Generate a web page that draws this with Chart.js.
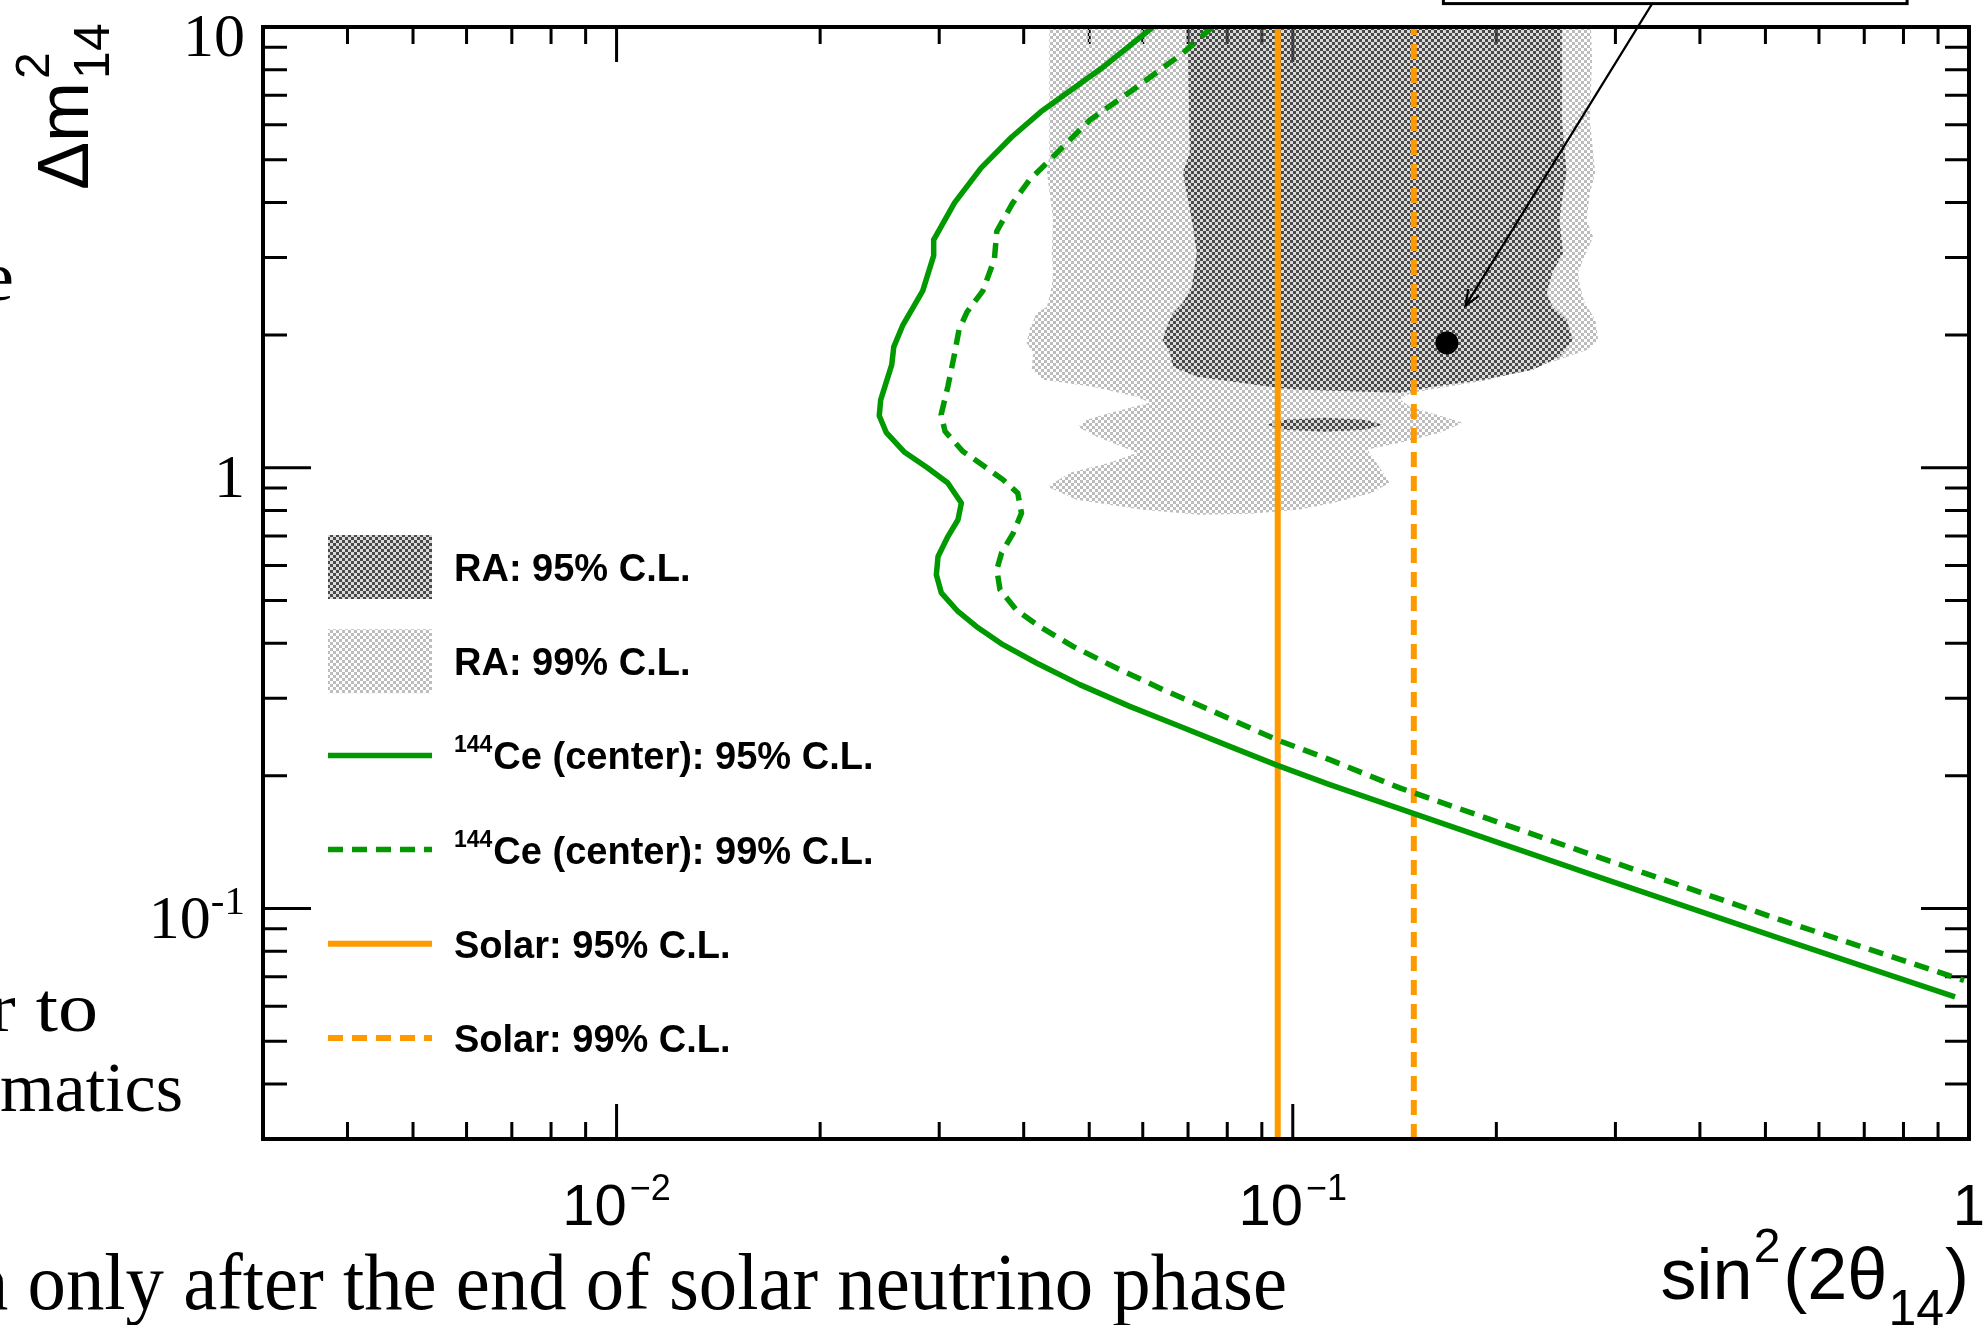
<!DOCTYPE html>
<html>
<head>
<meta charset="utf-8">
<title>Sterile neutrino sensitivity: RA, 144Ce and solar limits</title>
<script src="https://cdn.jsdelivr.net/npm/chart.js@4.4.1/dist/chart.umd.min.js"></script>
<style>
  html, body { margin: 0; padding: 0; background: #ffffff; overflow: hidden; }
  canvas { display: block; }
</style>
</head>
<body>
<canvas id="plot" width="1985" height="1325"></canvas>
<script>
// ---------------- axis ranges and labelled decades ----------------
const sin2Range = [0.003, 1];
const sin2Labels = [0.01, 0.1, 1];
const dm2Range = [0.03, 10];
const dm2Labels = [0.1, 1, 10];

// ---------------- RA allowed regions (closed contours) ----------------
const ra99Sin2 = [0.0437, 0.276, 0.277, 0.275, 0.280, 0.275, 0.272, 0.278, 0.2685, 0.264, 0.266, 0.270, 0.280, 0.283,
  0.272, 0.248, 0.222, 0.194, 0.171, 0.150, 0.144, 0.149, 0.167, 0.1785, 0.165, 0.144, 0.129, 0.132, 0.136, 0.139,
  0.131, 0.115, 0.102, 0.0864, 0.0728, 0.0600, 0.0479, 0.0434, 0.0468, 0.0536, 0.0588, 0.0560, 0.0513, 0.0481, 0.0496,
  0.0536, 0.0614, 0.0588, 0.0506, 0.0427, 0.0411, 0.0413, 0.0404, 0.0408, 0.0418, 0.0433, 0.0440, 0.0442, 0.0440,
  0.0442, 0.0437, 0.0433, 0.0437, 0.0436, 0.0437];
const ra99Dm2 = [10, 10, 8.42, 6.15, 4.67, 4.20, 3.65, 3.34, 2.96, 2.77, 2.57, 2.37, 2.17, 1.95,
  1.85, 1.76, 1.67, 1.58, 1.53, 1.48, 1.43, 1.375, 1.305, 1.265, 1.20, 1.14, 1.10, 1.043, 0.974, 0.925,
  0.878, 0.833, 0.803, 0.786, 0.782, 0.803, 0.846, 0.906, 0.974, 1.026, 1.081, 1.116, 1.176, 1.239, 1.285,
  1.332, 1.404, 1.449, 1.526, 1.583, 1.668, 1.823, 1.92, 2.056, 2.246, 2.318, 2.573, 2.768, 3.073,
  3.65, 4.20, 4.67, 5.18, 7.31, 10];

const ra95Sin2 = [0.0699, 0.250, 0.250, 0.254, 0.251, 0.248, 0.251, 0.242, 0.2375, 0.242, 0.254, 0.2595, 0.248,
  0.2265, 0.191, 0.161, 0.144, 0.1024, 0.0947, 0.0843, 0.0721, 0.0665, 0.0658, 0.0642, 0.0651, 0.0665, 0.0688,
  0.0709, 0.0721, 0.0709, 0.0688, 0.0704, 0.0699];
const ra95Dm2 = [10, 10, 6.15, 4.67, 4.20, 3.65, 3.07, 2.77, 2.49, 2.32, 2.17, 1.95, 1.785,
  1.668, 1.583, 1.526, 1.479, 1.503, 1.518, 1.558, 1.608, 1.694, 1.823, 1.951, 2.088, 2.246, 2.367,
  2.573, 3.073, 3.65, 4.67, 5.18, 10];

const ra95IslandSin2 = [0.0915, 0.0973, 0.1115, 0.1278, 0.1358, 0.1278, 0.1115, 0.0973, 0.0915];
const ra95IslandDm2 = [1.252, 1.285, 1.298, 1.285, 1.252, 1.220, 1.207, 1.220, 1.252];

// ---------------- 144Ce at detector centre: exclusion contours ----------------
const ce95Sin2 = [0.0621, 0.0522, 0.0424, 0.0384, 0.0346, 0.0316, 0.02944, 0.02944, 0.02836, 0.02648, 0.02570,
  0.02552, 0.02458, 0.02446, 0.02506, 0.02667, 0.02882, 0.03087, 0.03235, 0.03198, 0.03091, 0.02988, 0.02971,
  0.03022, 0.03198, 0.03404, 0.03727, 0.04178, 0.04842, 0.05740, 0.06804, 0.08066, 0.09469, 0.1134, 0.1474,
  0.2024, 0.2902, 0.5263, 0.9535];
const ce95Dm2 = [10, 8.07, 6.42, 5.63, 4.79, 3.99, 3.29, 3.03, 2.52, 2.10, 1.88,
  1.712, 1.426, 1.312, 1.201, 1.084, 1.000, 0.925, 0.832, 0.762, 0.699, 0.629, 0.572,
  0.520, 0.472, 0.4366, 0.3968, 0.3607, 0.3221, 0.2875, 0.2591, 0.2333, 0.2115, 0.1911, 0.1664,
  0.1408, 0.1164, 0.0855, 0.0630];

const ce99Sin2 = [0.0761, 0.0688, 0.0588, 0.0501, 0.0437, 0.0408, 0.0385, 0.0365, 0.0362, 0.0348, 0.0330, 0.0321,
  0.0316, 0.0309, 0.0302, 0.0306, 0.0325, 0.0346, 0.0373, 0.0392, 0.0397, 0.0386, 0.0371, 0.0365, 0.0369, 0.0390,
  0.0422, 0.0473, 0.0542, 0.0643, 0.0762, 0.0946, 0.1134, 0.1439, 0.2902, 0.5263, 0.9831];
const ce99Dm2 = [10, 8.73, 7.31, 6.15, 4.99, 4.50, 3.98, 3.44, 2.97, 2.52, 2.26, 2.06,
  1.81, 1.53, 1.32, 1.21, 1.09, 1.02, 0.939, 0.876, 0.789, 0.711, 0.641, 0.587, 0.529, 0.476,
  0.4366, 0.3934, 0.3544, 0.3137, 0.2802, 0.2416, 0.2177, 0.1878, 0.1291, 0.0942, 0.0687];

// ---------------- solar limits on sin^2(2theta_14) ----------------
const solar95 = 0.095;
const solar99 = 0.151;

// ---------------- RA best fit and its call-out ----------------
const bestFitSin2 = 0.169;
const bestFitDm2 = 1.92;
const noteArrowSin2 = [0.34, 0.18];
const noteArrowDm2 = [11.3, 2.33];
const noteBoxSin2 = [0.167, 0.81];

// ---------------- styling ----------------
const GREEN = '#009900';
const ORANGE = '#ff9900';
const DASH = [15, 9];
const SERIF = '"Liberation Serif", "Times New Roman", serif';
const SANS = '"Liberation Sans", Arial, Helvetica, sans-serif';

function pairs(xs, ys) { return xs.map((x, i) => ({ x, y: ys[i] })); }

function checker(on, off, cell) {
  const tile = document.createElement('canvas');
  tile.width = tile.height = cell * 2;
  const g = tile.getContext('2d');
  g.fillStyle = on;
  g.fillRect(0, 0, cell, cell);
  g.fillRect(cell, cell, cell, cell);
  if (off) {
    g.fillStyle = off;
    g.fillRect(cell, 0, cell, cell);
    g.fillRect(0, cell, cell, cell);
  }
  return g.createPattern(tile, 'repeat');
}
const patDark = checker('#4a4a4a', 'rgba(150,150,150,0.35)', 3);
const patLight = checker('#bdbdbd', null, 3);

function decadeTicks(min, max) {
  const out = [];
  for (let e = Math.floor(Math.log10(min)); e <= Math.ceil(Math.log10(max)); e++) {
    for (let m = 1; m <= 9; m++) {
      const v = m * Math.pow(10, e);
      if (v > min * 1.0001 && v < max * 0.9999) out.push({ v, major: m === 1 });
    }
  }
  return out;
}

function drawRun(ctx, pieces, x, baseline, align) {
  let total = 0;
  for (const p of pieces) {
    ctx.font = p.font;
    p.w = ctx.measureText(p.text).width;
    total += p.w + (p.gap || 0);
  }
  let cx = align === 'center' ? x - total / 2 : align === 'right' ? x - total : x;
  ctx.textAlign = 'left';
  ctx.textBaseline = 'alphabetic';
  for (const p of pieces) {
    cx += p.gap || 0;
    ctx.font = p.font;
    ctx.fillText(p.text, cx, baseline + (p.dy || 0));
    cx += p.w;
  }
  return total;
}

// inward tick marks on all four sides, drawn under the filled regions
const frameTicks = {
  id: 'frameTicks',
  beforeDatasetsDraw(chart) {
    const { ctx, chartArea: a, scales: { x, y } } = chart;
    ctx.save();
    ctx.strokeStyle = '#000';
    ctx.lineWidth = 3;
    ctx.beginPath();
    for (const t of decadeTicks(x.min, x.max)) {
      const px = x.getPixelForValue(t.v);
      const len = t.major ? 35 : 17;
      ctx.moveTo(px, a.bottom); ctx.lineTo(px, a.bottom - len);
      ctx.moveTo(px, a.top); ctx.lineTo(px, a.top + len);
    }
    for (const t of decadeTicks(y.min, y.max)) {
      const py = y.getPixelForValue(t.v);
      const len = t.major ? 48 : 24;
      ctx.moveTo(a.left, py); ctx.lineTo(a.left + len, py);
      ctx.moveTo(a.right, py); ctx.lineTo(a.right - len, py);
    }
    ctx.stroke();
    ctx.restore();
  },
  afterDatasetsDraw(chart) {
    const { ctx, chartArea: a, scales: { x, y } } = chart;
    ctx.save();
    // frame
    ctx.strokeStyle = '#000';
    ctx.lineWidth = 4;
    ctx.strokeRect(a.left, a.top, a.right - a.left, a.bottom - a.top);

    ctx.fillStyle = '#000';
    // x tick labels
    for (const v of sin2Labels) {
      const px = x.getPixelForValue(v);
      const e = Math.round(Math.log10(v));
      const pieces = e === 0
        ? [{ text: '1', font: '58px ' + SANS }]
        : [{ text: '10', font: '58px ' + SANS }, { text: '\u2212' + (-e), font: '36px ' + SANS, dy: -25, gap: 3 }];
      drawRun(ctx, pieces, px, a.bottom + 86, 'center');
    }
    // y tick labels
    for (const v of dm2Labels) {
      const py = y.getPixelForValue(v);
      const e = Math.round(Math.log10(v));
      let pieces;
      if (e === 0) pieces = [{ text: '1', font: '62px ' + SERIF }];
      else if (e === 1) pieces = [{ text: '10', font: '62px ' + SERIF }];
      else pieces = [{ text: '10', font: '62px ' + SERIF }, { text: String(e), font: '41px ' + SERIF, dy: -24 }];
      drawRun(ctx, pieces, a.left - 18, py + 29, 'right');
    }
    // x title
    drawRun(ctx, [
      { text: 'sin', font: '72px ' + SANS },
      { text: '2', font: '48px ' + SANS, dy: -37, gap: 1 },
      { text: '(2\u03b8', font: '72px ' + SANS, gap: 3 },
      { text: '14', font: '50px ' + SANS, dy: 26, gap: 1 },
      { text: ')', font: '72px ' + SANS, gap: 1 }
    ], a.right, a.bottom + 160, 'right');
    // y title, reading upwards
    ctx.save();
    ctx.translate(88, a.top + 163);
    ctx.rotate(-Math.PI / 2);
    ctx.textAlign = 'left';
    ctx.textBaseline = 'alphabetic';
    ctx.font = '72px ' + SANS;
    const wdm = ctx.measureText('\u0394m').width;
    ctx.fillText('\u0394m', 0, 0);
    ctx.font = '48px ' + SANS;
    ctx.fillText('2', wdm + 3, -39);
    ctx.font = '50px ' + SANS;
    ctx.fillText('14', wdm + 3, 21);
    ctx.restore();

    // call-out box and arrow pointing at the best fit
    const bx0 = x.getPixelForValue(noteBoxSin2[0]);
    const bx1 = x.getPixelForValue(noteBoxSin2[1]);
    const tx = x.getPixelForValue(noteArrowSin2[0]);
    const ty = y.getPixelForValue(noteArrowDm2[0]);
    const hx = x.getPixelForValue(noteArrowSin2[1]);
    const hy = y.getPixelForValue(noteArrowDm2[1]);
    ctx.lineWidth = 3;
    ctx.strokeRect(bx0, ty - 80, bx1 - bx0, 80);
    ctx.lineWidth = 2.2;
    ctx.beginPath();
    ctx.moveTo(tx, ty); ctx.lineTo(hx, hy);
    const ang = Math.atan2(hy - ty, hx - tx);
    const arm = 17, spread = 0.38;
    ctx.moveTo(hx - arm * Math.cos(ang - spread), hy - arm * Math.sin(ang - spread));
    ctx.lineTo(hx, hy);
    ctx.lineTo(hx - arm * Math.cos(ang + spread), hy - arm * Math.sin(ang + spread));
    ctx.stroke();

    // legend
    const entries = chart.data.datasets.filter(d => d.inLegend !== false);
    entries.forEach((d, i) => {
      const cy = a.top + 540 + i * 94.2;
      const sx = a.left + 65, sw = 104;
      if (d.fill) {
        ctx.fillStyle = d.backgroundColor;
        ctx.fillRect(sx, cy - 32, sw, 64);
      } else {
        ctx.strokeStyle = d.borderColor;
        ctx.lineWidth = d.borderWidth;
        ctx.setLineDash(d.borderDash || []);
        ctx.beginPath();
        ctx.moveTo(sx, cy); ctx.lineTo(sx + sw, cy);
        ctx.stroke();
        ctx.setLineDash([]);
      }
      ctx.fillStyle = '#000';
      const m = /^(\d+)(.*)$/.exec(d.label);
      const pieces = m
        ? [{ text: m[1], font: 'bold 23px ' + SANS, dy: -17 }, { text: m[2], font: 'bold 38px ' + SANS, gap: 1 }]
        : [{ text: d.label, font: 'bold 38px ' + SANS }];
      drawRun(ctx, pieces, a.left + 191, cy + 14, 'left');
    });
    ctx.restore();
  }
};

// surrounding page text around the figure (each line fitted between left and right)
const marginNotes = [
  { text: 'e', left: -20, right: 14, baseline: 300, size: 70 },
  { text: 'r to', left: -11, right: 98, baseline: 1031, size: 70 },
  { text: 'matics', left: 0, right: 183, baseline: 1111, size: 70 },
  { text: 'n only after the end of solar neutrino phase', left: -30, right: 1287, baseline: 1309, size: 80 }
];
const marginText = {
  id: 'marginText',
  afterDraw(chart) {
    const ctx = chart.ctx;
    ctx.save();
    ctx.fillStyle = '#000';
    ctx.textAlign = 'left';
    ctx.textBaseline = 'alphabetic';
    for (const n of marginNotes) {
      ctx.font = n.size + 'px ' + SERIF;
      const w = ctx.measureText(n.text).width;
      const k = (n.right - n.left) / w;
      ctx.save();
      ctx.translate(n.left, n.baseline);
      ctx.scale(k, 1);
      ctx.fillText(n.text, 0, 0);
      ctx.restore();
    }
    ctx.restore();
  }
};

const datasets = [
  { label: 'RA: 95% C.L.', data: pairs(ra95Sin2, ra95Dm2), showLine: true, fill: 'shape',
    backgroundColor: patDark, borderColor: 'rgba(0,0,0,0)', borderWidth: 0, pointRadius: 0, order: 8 },
  { label: 'RA: 99% C.L.', data: pairs(ra99Sin2, ra99Dm2), showLine: true, fill: 'shape',
    backgroundColor: patLight, borderColor: 'rgba(0,0,0,0)', borderWidth: 0, pointRadius: 0, order: 9 },
  { label: '144Ce (center): 95% C.L.', data: pairs(ce95Sin2, ce95Dm2), showLine: true, fill: false,
    borderColor: GREEN, borderWidth: 5.5, borderJoinStyle: 'round', pointRadius: 0, order: 3 },
  { label: '144Ce (center): 99% C.L.', data: pairs(ce99Sin2, ce99Dm2), showLine: true, fill: false,
    borderColor: GREEN, borderWidth: 5.5, borderDash: DASH, pointRadius: 0, order: 4 },
  { label: 'Solar: 95% C.L.', data: [{ x: solar95, y: dm2Range[0] }, { x: solar95, y: dm2Range[1] }],
    showLine: true, fill: false, borderColor: ORANGE, borderWidth: 6, pointRadius: 0, order: 5 },
  { label: 'Solar: 99% C.L.', data: [{ x: solar99, y: dm2Range[0] }, { x: solar99, y: dm2Range[1] }],
    showLine: true, fill: false, borderColor: ORANGE, borderWidth: 6, borderDash: DASH, pointRadius: 0, order: 6 },
  { label: 'RA: 95% C.L. (island)', inLegend: false, data: pairs(ra95IslandSin2, ra95IslandDm2), showLine: true,
    fill: 'shape', backgroundColor: patDark, borderColor: 'rgba(0,0,0,0)', borderWidth: 0, pointRadius: 0, order: 8 },
  { label: 'RA best fit', inLegend: false, data: [{ x: bestFitSin2, y: bestFitDm2 }], showLine: false,
    pointRadius: 11.5, pointBackgroundColor: '#000', pointBorderWidth: 0, order: 0 }
];

new Chart(document.getElementById('plot'), {
  type: 'scatter',
  data: { datasets },
  options: {
    responsive: false,
    animation: false,
    devicePixelRatio: 1,
    events: [],
    layout: { padding: { left: 263, right: 16, top: 27, bottom: 186 } },
    scales: {
      x: { type: 'logarithmic', min: sin2Range[0], max: sin2Range[1], display: false },
      y: { type: 'logarithmic', min: dm2Range[0], max: dm2Range[1], display: false }
    },
    plugins: { legend: { display: false }, tooltip: { enabled: false } },
    elements: { line: { tension: 0 } }
  },
  plugins: [frameTicks, marginText]
});
</script>
</body>
</html>
